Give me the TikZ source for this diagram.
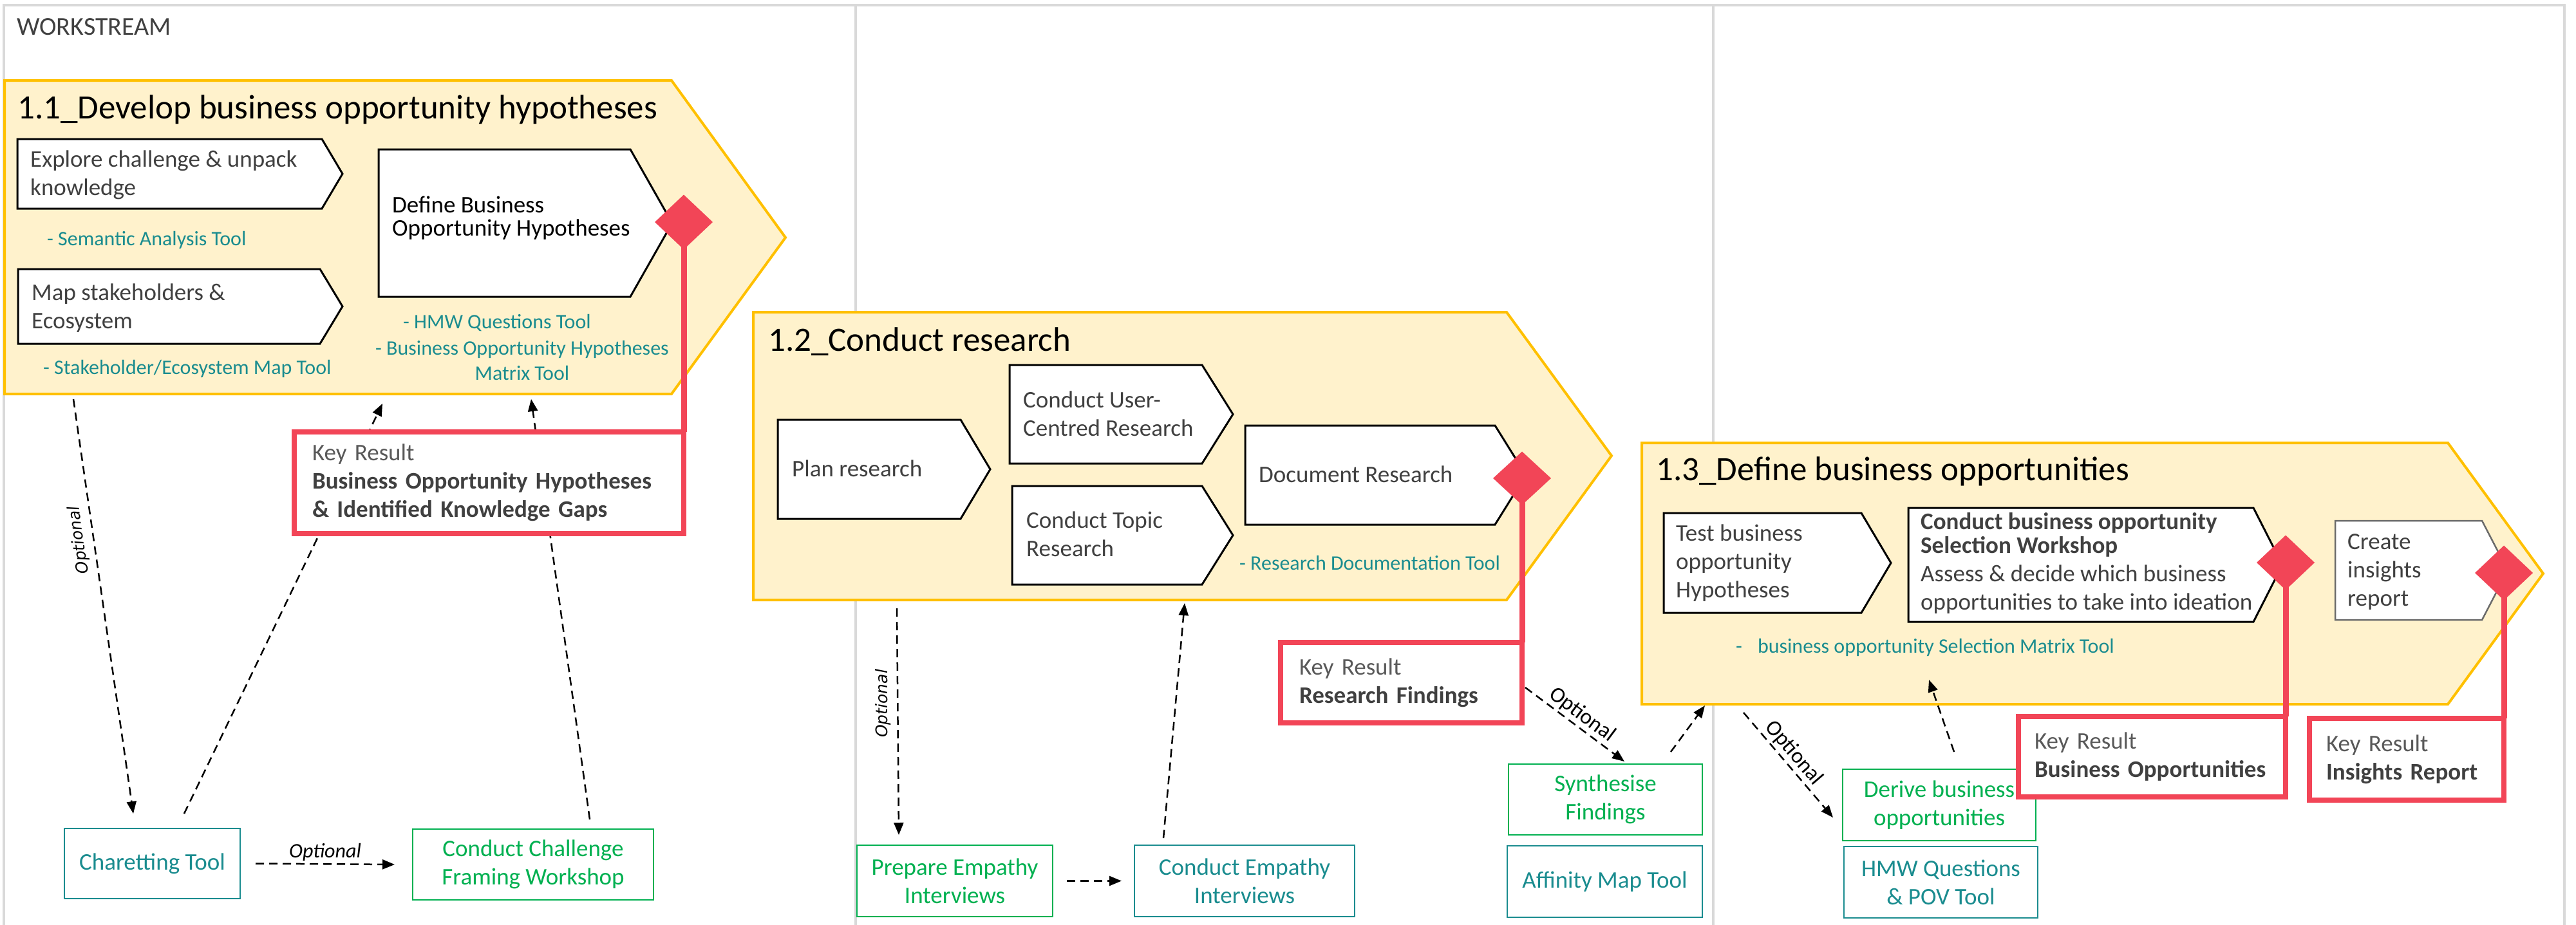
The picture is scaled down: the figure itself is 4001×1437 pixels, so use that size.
\documentclass[tikz,border=0pt]{standalone}
\usepackage{fontspec}
\setmainfont{Carlito}
\newfontfamily\dvfont{DejaVu Sans}
\usetikzlibrary{arrows.meta,shapes.geometric}
\definecolor{gold}{HTML}{FFC000}
\definecolor{phasefill}{HTML}{FFF2CC}
\definecolor{krred}{HTML}{F24557}
\definecolor{framegray}{HTML}{D9D9D9}
\definecolor{txtgray}{HTML}{404040}
\definecolor{krgray}{HTML}{595959}
\definecolor{boxgray}{HTML}{6B6B6B}
\definecolor{tealc}{HTML}{1A8C8F}
\definecolor{greenc}{HTML}{00B050}
\newcommand{\mlL}[1]{\begin{tabular}[t]{@{}l@{}}#1\end{tabular}}
\newcommand{\mlC}[1]{\begin{tabular}[t]{@{}c@{}}#1\end{tabular}}
\newcommand{\stepshape}[6]{\draw[#1] (#2,#3) -- (#4,#3) -- (#6,{(#3+#5)/2}) -- (#4,#5) -- (#2,#5) -- cycle;}
\pgfdeclarelayer{back}
\pgfdeclarelayer{mid}
\pgfsetlayers{back,mid,main}
\tikzset{
  frameline/.style={draw=framegray, line width=4pt},
  phasebox/.style={draw=gold, fill=phasefill, line width=4pt, line join=miter},
  stepbox/.style={draw=black, fill=white, line width=3pt, line join=miter},
  phasetitle/.style={anchor=base west, inner sep=0pt, font=\fontsize{53}{62}\selectfont, text=black},
  steptxt/.style={anchor=base west, inner sep=0pt, font=\fontsize{37}{44}\selectfont, text=txtgray},
  tooltxt/.style={anchor=base west, inner sep=0pt, font=\fontsize{32}{39}\selectfont, text=tealc},
  milestone/.style={diamond, fill=krred, draw=none, inner sep=0pt, outer sep=0pt, minimum width=90pt, minimum height=85pt},
  redlink/.style={draw=krred, line width=9pt},
  keyres/.style={rectangle, draw=krred, line width=8pt, fill=white, anchor=north west, outer sep=0pt, align=left, font=\fontsize{37}{44}\selectfont, text=txtgray, inner ysep=0pt},
  toolbox/.style={rectangle, draw=tealc, text=tealc, fill=white, line width=2.5pt, align=center, font=\fontsize{37}{44}\selectfont, inner sep=0pt, outer sep=0pt},
  actbox/.style={toolbox, draw=greenc, text=greenc},
  optarrow/.style={draw=black, line width=2.5pt, dash pattern=on 13pt off 8pt, -{Triangle[length=19pt,width=15pt]}},
  optlabel/.style={font=\fontsize{34}{40}\selectfont, text=black, inner sep=3pt},
  optvlabel/.style={font=\dvfont\itshape\fontsize{25}{30}\selectfont, text=black, anchor=south, inner sep=9pt},
}
\begin{document}
\begin{tikzpicture}[x=1pt,y=-1pt]
\useasboundingbox (0,0) rectangle (4001,1437);
\begin{pgfonlayer}{back}
% frame
\draw[frameline] (6,1437) -- (6,8) -- (3983,8) -- (3983,1437);
\draw[frameline] (1329,8) -- (1329,1437);
\draw[frameline] (2661,8) -- (2661,1437);
% phases
\draw[phasebox] (7,125) -- (1043,125) -- (1220,369) -- (1043,612) -- (7,612) -- cycle;
\draw[phasebox] (1170,485) -- (2340,485) -- (2503,708) -- (2340,932) -- (1170,932) -- cycle;
\draw[phasebox] (2550,688) -- (3802,688) -- (3950,891) -- (3802,1094) -- (2550,1094) -- cycle;
\end{pgfonlayer}

\node[anchor=base west, inner sep=0pt, font=\fontsize{40}{48}\selectfont, text=txtgray] (ws) at (26,55) {WORKSTREAM};

% ---- phase 1.1
\node[phasetitle] (p11t) at (27,184) {1.1\_Develop business opportunity hypotheses};
\stepshape{stepbox}{27}{216}{500}{324}{532}
\node[steptxt] (explore) at (47,259) {\mlL{Explore challenge \& unpack\\knowledge}};
\stepshape{stepbox}{28}{418}{497}{534}{532}
\node[steptxt] (mapeco) at (49,466) {\mlL{Map stakeholders \&\\Ecosystem}};
\stepshape{stepbox}{588}{232}{979}{461}{1044}
\node[steptxt, text=black, font=\fontsize{37}{36}\selectfont] (definebo) at (609,330) {\mlL{Define Business\\Opportunity Hypotheses}};
\node[tooltxt] (t1) at (73,381) {- Semantic Analysis Tool};
\node[tooltxt] (t2) at (67,581) {- Stakeholder/Ecosystem Map Tool};
\node[tooltxt] (t3) at (626,510) {- HMW Questions Tool};
\node[tooltxt, anchor=base] (t4) at (811,551) {\mlC{- Business Opportunity Hypotheses\\Matrix Tool}};

% ---- phase 1.2
\node[phasetitle] (p12t) at (1193,545) {1.2\_Conduct research};
\stepshape{stepbox}{1208}{652}{1492}{806}{1538}
\node[steptxt] (planres) at (1230,740) {Plan research};
\stepshape{stepbox}{1568}{567}{1867}{720}{1915}
\node[steptxt] (usercr) at (1589,633) {\mlL{Conduct User-\\Centred Research}};
\stepshape{stepbox}{1572}{755}{1867}{908}{1915}
\node[steptxt] (topicr) at (1594,820) {\mlL{Conduct Topic\\Research}};
\stepshape{stepbox}{1934}{661}{2322}{815}{2370}
\node[steptxt] (docres) at (1955,749) {Document Research};
\node[tooltxt] (t5) at (1925,885) {- Research Documentation Tool};

% ---- phase 1.3
\node[phasetitle] (p13t) at (2572,746) {1.3\_Define business opportunities};
\stepshape{stepbox}{2584}{797}{2891}{952}{2937}
\node[steptxt] (testbo) at (2603,840) {\mlL{Test business\\opportunity\\Hypotheses}};
\stepshape{stepbox}{2964}{789}{3500}{966}{3545}
\node[steptxt, font=\fontsize{37}{37}\selectfont] (selws) at (2983,822) {\mlL{\textbf{Conduct business opportunity}\\\textbf{Selection Workshop}\\[7pt]Assess \& decide which business\\[7pt]opportunities to take into ideation}};
\stepshape{stepbox, draw=boxgray, line width=2.5pt}{3627}{809}{3855}{963}{3895}
\node[steptxt] (insrep) at (3646,853) {\mlL{Create\\insights\\report}};
\node[tooltxt] (t6) at (2696,1014) {-\hspace{24pt}business opportunity Selection Matrix Tool};

% ---- bottom boxes
\node[toolbox, minimum width=273pt, minimum height=109pt] (charet) at (236.5,1341.5) {Charetting Tool};
\node[actbox, minimum width=374pt, minimum height=110pt] (challenge) at (828,1343) {Conduct Challenge\\Framing Workshop};
\node[actbox, minimum width=304pt, minimum height=111pt] (prepemp) at (1483,1368.5) {Prepare Empathy\\Interviews};
\node[toolbox, minimum width=342pt, minimum height=111pt] (condemp) at (1933,1368.5) {Conduct Empathy\\Interviews};
\node[actbox, minimum width=301pt, minimum height=110pt] (synth) at (2493.5,1242) {Synthesise\\Findings};
\node[toolbox, minimum width=303pt, minimum height=111pt] (affin) at (2492.5,1369.5) {Affinity Map Tool};
\node[actbox, minimum width=300pt, minimum height=111pt] (derive) at (3012,1250.5) {Derive business\\opportunities};
\node[toolbox, minimum width=301pt, minimum height=111pt] (hmwpov) at (3014.5,1370.5) {HMW Questions\\\& POV Tool};

% ---- optional connectors
\coordinate (a1s) at (114,620); \coordinate (a1e) at (207,1264);
\draw[optarrow] (a1s) -- node[optvlabel, pos=0.335, rotate=98] {Optional} (a1e);
\coordinate (a2s) at (286,1264); \coordinate (a2e) at (594,627);
\draw[optarrow] (a2s) -- (a2e);
\coordinate (a3s) at (916,1273); \coordinate (a3e) at (825,620);
\draw[optarrow] (a3s) -- (a3e);
\draw[optarrow] ([xshift=24pt]charet.east) -- node[optlabel, above, font=\itshape\fontsize{32}{38}\selectfont] {Optional} ([xshift=-28pt]challenge.west);
\coordinate (a5s) at (1393,945); \coordinate (a5e) at (1396,1297);
\draw[optarrow] (a5s) -- node[optvlabel, pos=0.42, rotate=90] {Optional} (a5e);
\coordinate (a6s) at (1807,1302); \coordinate (a6e) at (1840,937);
\draw[optarrow] (a6s) -- (a6e);
\draw[optarrow] ([xshift=22pt]prepemp.east) -- ([xshift=-20pt]condemp.west);
\coordinate (a8s) at (2369,1068); \coordinate (a8e) at (2523,1183);
\draw[optarrow] (a8s) -- node[optlabel, sloped, above, pos=0.5] {Optional} (a8e);
\coordinate (a9s) at (2595,1168); \coordinate (a9e) at (2648,1096);
\draw[optarrow] (a9s) -- (a9e);
\coordinate (a10s) at (2708,1107); \coordinate (a10e) at (2847,1270);
\draw[optarrow] (a10s) -- node[optlabel, sloped, above, pos=0.46] {Optional} (a10e);
\coordinate (a11s) at (3035,1168); \coordinate (a11e) at (2996,1056);
\draw[optarrow] (a11s) -- (a11e);

% ---- milestones
\node[milestone] (d1) at (1062,345) {};
\node[milestone, minimum height=83pt] (d2) at (2364,743) {};
\node[milestone] (d3) at (3550,874) {};
\node[milestone] (d4) at (3889,890) {};

% ---- key results
\node[keyres, inner xsep=28pt, text width=549pt, minimum height=158pt] (kr1) at (457,671) {{\color{krgray}Key Result}\\\textbf{Business Opportunity Hypotheses}\\\textbf{\& Identified Knowledge Gaps}};
\node[keyres, inner xsep=29pt, text width=317pt, minimum height=125pt] (kr2) at (1989,998) {{\color{krgray}Key Result}\\\textbf{Research Findings}};
\node[keyres, inner xsep=25pt, text width=365pt, minimum height=125pt] (kr3) at (3135,1113) {{\color{krgray}Key Result}\\\textbf{Business Opportunities}};
\node[keyres, inner xsep=26pt, text width=250pt, minimum height=127pt] (kr4) at (3587,1116) {{\color{krgray}Key Result}\\\textbf{Insights Report}};

\begin{pgfonlayer}{mid}
\draw[redlink] (d1.center) -- (d1.center |- kr1.north);
\draw[redlink] (d2.center) -- (d2.center |- kr2.north);
\draw[redlink] (d3.center) -- (d3.center |- kr3.north);
\draw[redlink] (d4.center) -- (d4.center |- kr4.north);
\end{pgfonlayer}
\end{tikzpicture}
\end{document}
